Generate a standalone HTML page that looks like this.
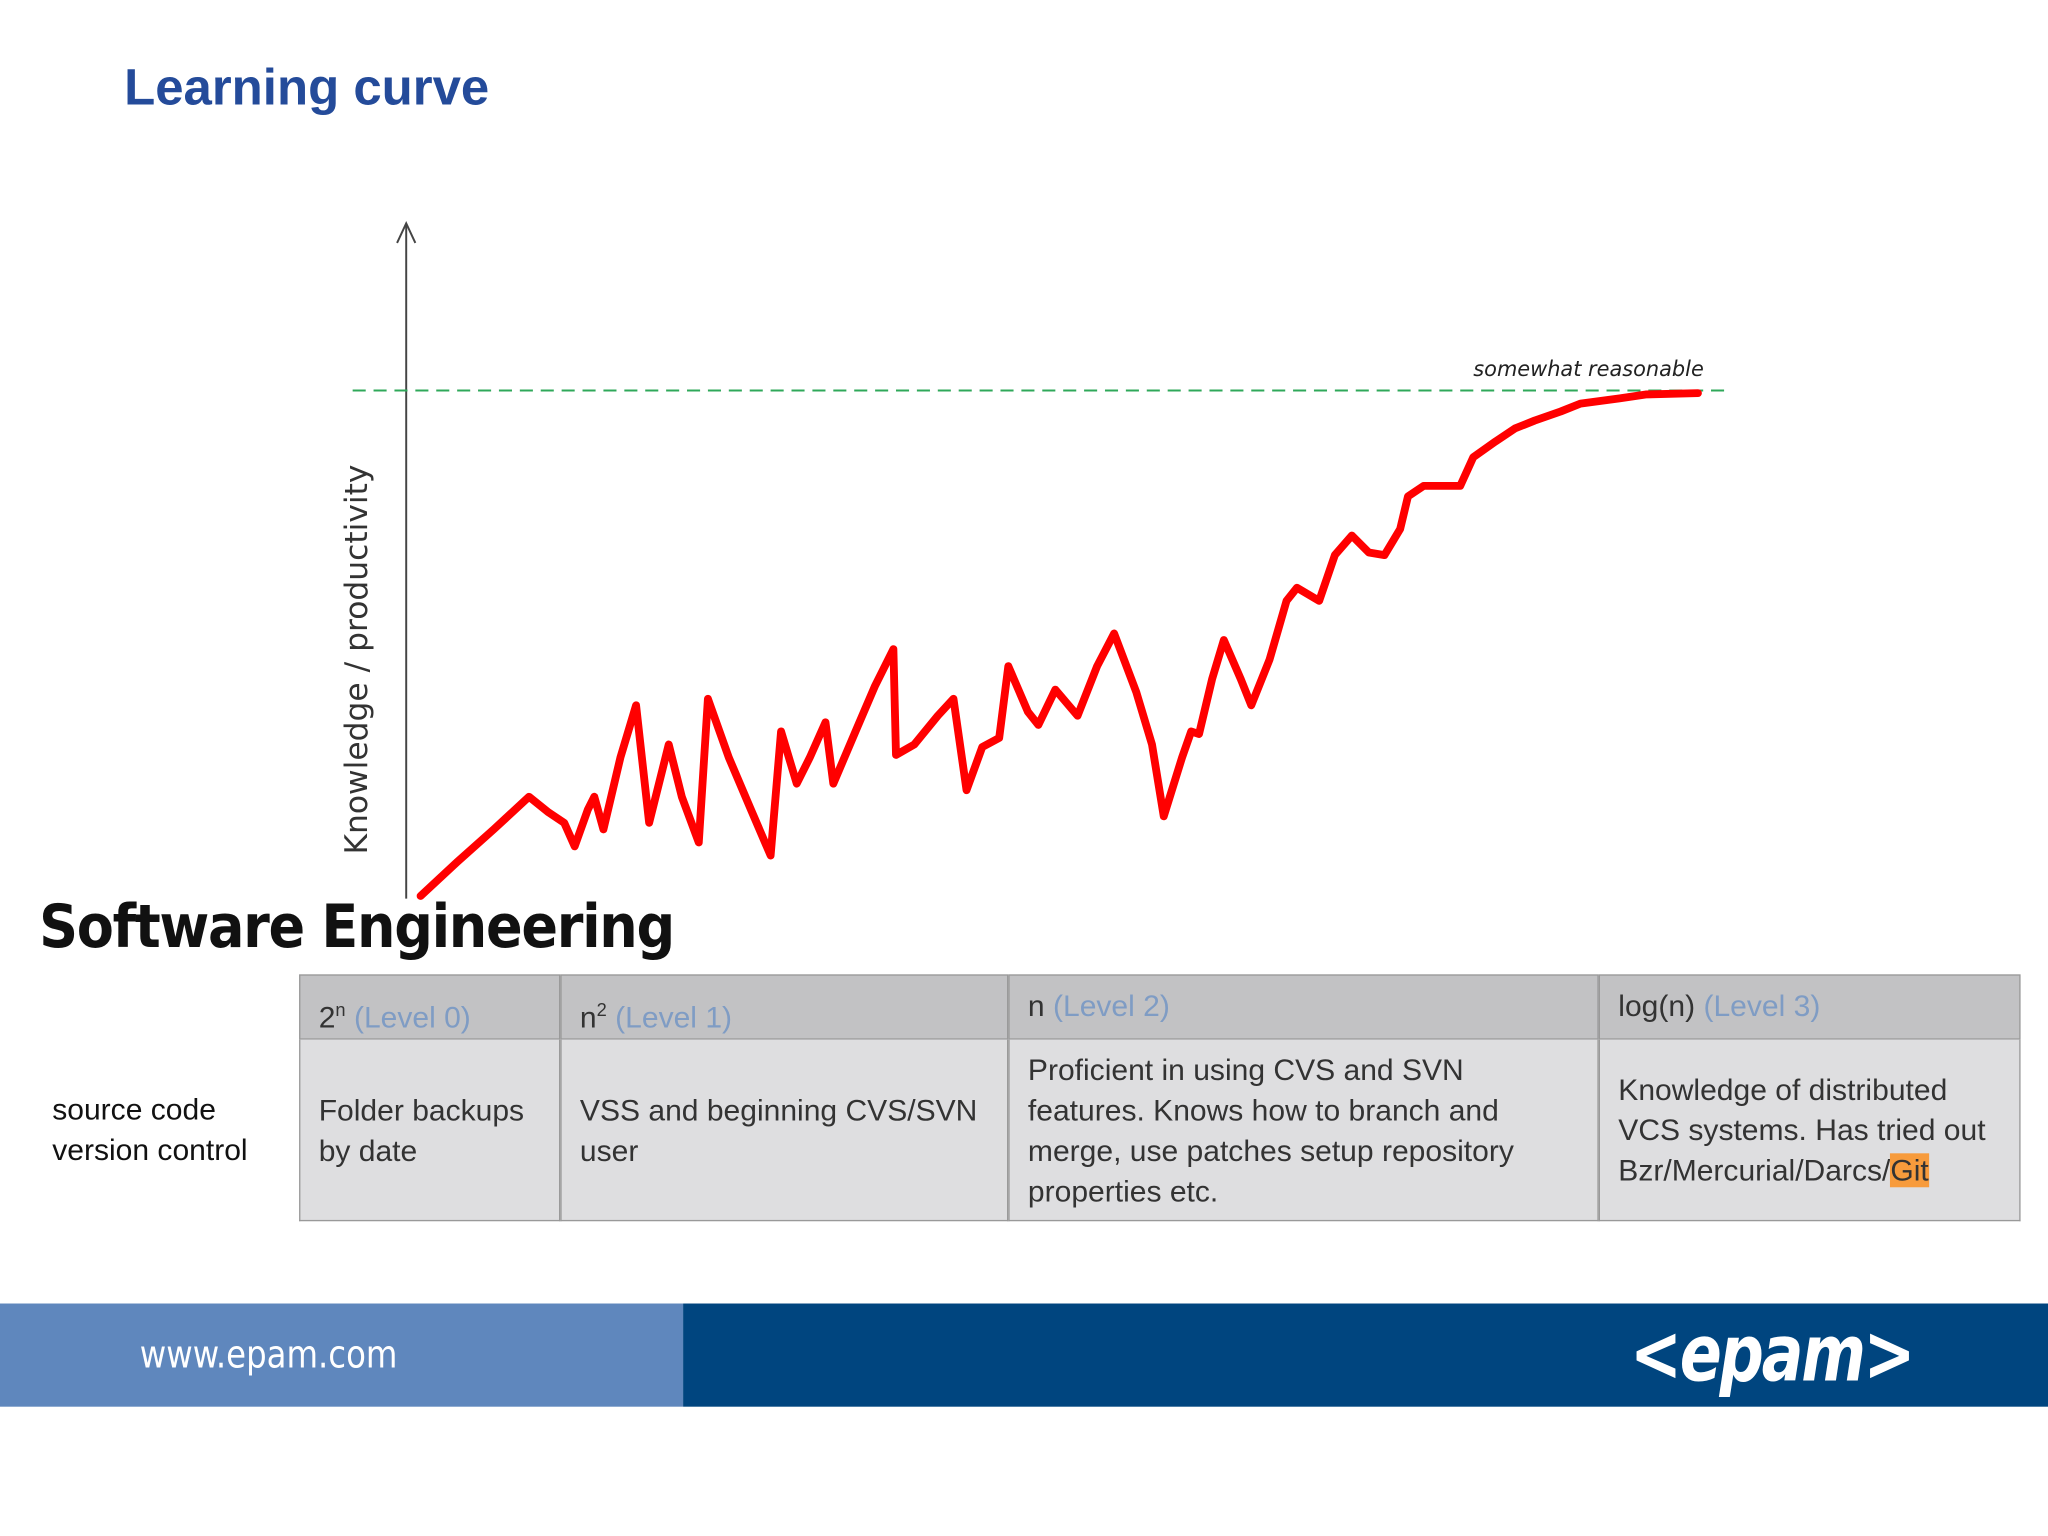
<!DOCTYPE html>
<html><head><meta charset="utf-8">
<style>
html,body{margin:0;padding:0;background:#fff;}
body{width:2048px;height:1536px;overflow:hidden;position:relative;}
#wrap{position:absolute;left:0;top:0;width:1568px;height:1176px;transform:scale(1.306122);transform-origin:0 0;font-family:"Liberation Sans",sans-serif;}
.abs{position:absolute;}
.cell{position:absolute;box-sizing:border-box;font-size:23px;color:#333;line-height:31px;padding-left:14px;}
.lv{color:#7f9cc4;}
</style></head><body>
<div id="wrap">
<div class="abs" style="left:95px;top:46px;font-size:39px;font-weight:bold;color:#244b9a;">Learning curve</div>

<svg class="abs" id="chart" style="left:0;top:0" width="1568" height="700">
  <line x1="311" y1="172" x2="311" y2="688" stroke="#444" stroke-width="1.5"/>
  <polyline points="304,186 311,171 318,186" fill="none" stroke="#444" stroke-width="1.5"/>
  <text transform="translate(281,505) rotate(-90)" text-anchor="middle" font-size="24" fill="#333" font-family="DejaVu Sans, sans-serif">Knowledge / productivity</text>
  <line x1="270" y1="299" x2="1325" y2="299" stroke="#2fa85a" stroke-width="1.5" stroke-dasharray="10,6"/>
  <text x="1128" y="288" font-size="16" font-style="italic" fill="#222" font-family="DejaVu Sans, sans-serif">somewhat reasonable</text>
  <g id="marks"></g>
</svg>

<div class="abs" style="left:30px;top:682px;font-size:46px;font-weight:bold;color:#111;font-family:'DejaVu Sans Condensed','Liberation Sans',sans-serif;letter-spacing:-1px;">Software Engineering</div>

<div>
<div class="cell" style="left:229px;top:746px;width:200px;height:50px;background:#c2c2c4;border:1px solid #999;padding-top:11px;">2<sup style="font-size:14px">n</sup> <span class="lv">(Level 0)</span></div>
<div class="cell" style="left:429px;top:746px;width:343px;height:50px;background:#c2c2c4;border:1px solid #999;padding-top:11px;">n<sup style="font-size:14px">2</sup> <span class="lv">(Level 1)</span></div>
<div class="cell" style="left:772px;top:746px;width:452px;height:50px;background:#c2c2c4;border:1px solid #999;padding-top:8px;">n <span class="lv">(Level 2)</span></div>
<div class="cell" style="left:1224px;top:746px;width:323px;height:50px;background:#c2c2c4;border:1px solid #999;padding-top:8px;">log(n) <span class="lv">(Level 3)</span></div>
<div class="cell" style="left:26px;top:834px;width:200px;color:#111;">source code<br>version control</div>
<div class="cell" style="left:229px;top:796px;width:200px;height:139px;background:#dedee0;border:1px solid #999;border-top:none;padding-top:39px;">Folder backups<br>by date</div>
<div class="cell" style="left:429px;top:796px;width:343px;height:139px;background:#dedee0;border:1px solid #999;border-top:none;padding-top:39px;">VSS and beginning CVS/SVN<br>user</div>
<div class="cell" style="left:772px;top:796px;width:452px;height:139px;background:#dedee0;border:1px solid #999;border-top:none;padding-top:8px;">Proficient in using CVS and SVN<br>features. Knows how to branch and<br>merge, use patches setup repository<br>properties etc.</div>
<div class="cell" style="left:1224px;top:796px;width:323px;height:139px;background:#dedee0;border:1px solid #999;border-top:none;padding-top:23px;">Knowledge of distributed<br>VCS systems. Has tried out<br>Bzr/Mercurial/Darcs/<span style="background:#f79b3c">Git</span></div>
</div>

<div class="abs" style="left:0;top:998px;width:523px;height:79px;background:#5f87bd;"></div>
<div class="abs" style="left:523px;top:998px;width:1045px;height:79px;background:#00457f;"></div>
<div class="abs" style="left:107px;top:1020px;font-size:29px;color:#fff;font-family:'DejaVu Sans Condensed',sans-serif;transform:scaleX(0.95);transform-origin:0 0;">www.epam.com</div>
<div class="abs" style="left:1248px;top:1002px;font-size:60px;font-weight:bold;font-style:italic;color:#fff;font-family:'DejaVu Sans Condensed',sans-serif;letter-spacing:-2px;transform:scaleX(0.88);transform-origin:0 0;">&lt;epam&gt;</div>
</div>

<script>
// Learning curve data: time (arbitrary units) and knowledge level
const timeValues = [2,30,58,85,100,112,120,130,135,142,155,167,177,192,202,215,222,238,255,270,278,290,300,312,318,335,350,364,366,380,398,410,420,432,445,452,467,475,488,505,520,533,550,562,571,585,592,598,608,617,630,638,652,665,673,690,702,715,728,740,752,758,770,798,808,825,840,855,875,890,920,940,980];
const knowledgeValues = [2,28,53,78,66,58,40,68,78,53,108,148,58,118,78,43,153,108,68,33,128,88,108,135,88,128,163,191,110,118,140,153,83,116,123,178,143,133,160,140,178,203,158,118,63,108,128,126,168,198,168,148,183,228,238,228,263,278,265,263,283,308,316,316,338,350,360,366,373,379,383,386,387];
const xDomain = [0, 985];
const yDomain = [0, 389];

function xScale(v){ return 320 + (v - xDomain[0]) / (xDomain[1] - xDomain[0]) * 985; }
function yScale(v){ return 688 - (v - yDomain[0]) / (yDomain[1] - yDomain[0]) * 389; }

const pts = timeValues.map((t,i) => xScale(t).toFixed(1) + ',' + yScale(knowledgeValues[i]).toFixed(1)).join(' ');
const line = document.createElementNS('http://www.w3.org/2000/svg','polyline');


line.setAttribute('points', pts);
line.setAttribute('fill', 'none');
line.setAttribute('stroke', '#ff0000');
line.setAttribute('stroke-width', '6');
line.setAttribute('stroke-linejoin', 'round');
line.setAttribute('stroke-linecap', 'round');
document.getElementById('marks').appendChild(line);
</script>
</body></html>
